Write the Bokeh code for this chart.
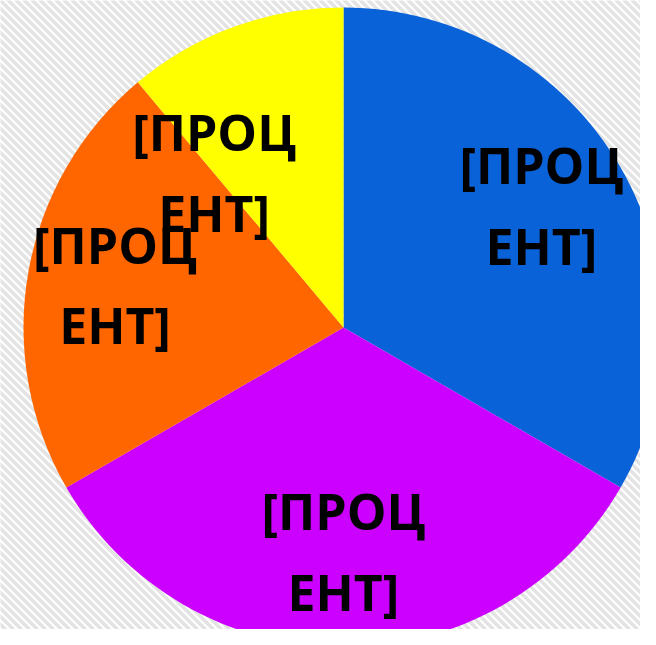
import math
from bokeh.plotting import figure
from bokeh.models import Range1d, ColumnDataSource
from bokeh.core.properties import value
from bokeh.embed import file_html
from bokeh.resources import INLINE

# ---- data ----
categories = ["A", "B", "C", "D"]
values = [3, 3, 2, 1]
colors = ["#0A62D9", "#CC00FF", "#FF6600", "#FFFF00"]
labels = ["[ПРОЦ\nЕНТ]", "[ПРОЦ\nЕНТ]", "[ПРОЦ\nЕНТ]", "[ПРОЦ\nЕНТ]"]

# ---- layout constants ----
R = 320
label_frac = 0.725
nudge_x = [-3, 0, 0, -50]
nudge_y = [6, 8, 2, -63]

total = sum(values)
starts, ends, lx, ly = [], [], [], []
a = math.pi / 2
for i, v in enumerate(values):
    span = 2 * math.pi * v / total
    s, e = a, a - span
    starts.append(s)
    ends.append(e)
    mid = (s + e) / 2
    lx.append(R * label_frac * math.cos(mid) + nudge_x[i])
    ly.append(R * label_frac * math.sin(mid) + nudge_y[i])
    a = e

src = ColumnDataSource(dict(cat=categories, start=starts, end=ends, color=colors))
lsrc = ColumnDataSource(dict(x=lx, y=ly, text=labels))

p = figure(width=640, height=629, output_backend="svg", toolbar_location=None,
           x_range=Range1d(-343, 297), y_range=Range1d(-302, 327),
           min_border=0)
p.axis.visible = False
p.grid.visible = False
p.outline_line_color = None
p.background_fill_color = "#FFFFFF"
p.border_fill_color = "#FFFFFF"

# decorative diagonal stripe background
step = 8
cs = list(range(-1000, 1000, step))
p.segment(x0=[-700] * len(cs), y0=[700 + c for c in cs],
          x1=[700] * len(cs), y1=[-700 + c for c in cs],
          line_color="#E3E3E3", line_width=3.5)

p.wedge(x=0, y=0, radius=R, start_angle="start", end_angle="end",
        direction="clock", fill_color="color", line_color=None, source=src)

p.text(x="x", y="y", text="text", source=lsrc, text_align="center",
       text_baseline="middle", text_font=value("Open Sans"),
       text_font_style="bold", text_font_size="50px", text_color="#000000",
       text_line_height=1.18)

open("out.html", "w").write(file_html(p, INLINE))
